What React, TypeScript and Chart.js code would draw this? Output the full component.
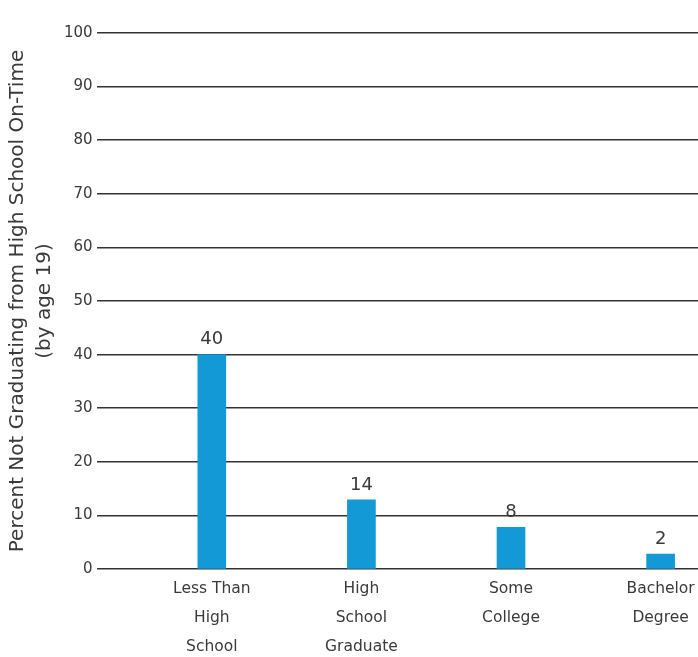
import React, { useEffect, useRef } from "react";
import { Chart, registerables } from "chart.js";

Chart.register(...registerables);

const categories: string[][] = [
  ["Less Than", "High", "School"],
  ["High", "School", "Graduate"],
  ["Some", "College"],
  ["Bachelor", "Degree"],
];
const barValues: number[] = [40, 12.9, 7.8, 2.8];
const valueLabels: string[] = ["40", "14", "8", "2"];
const yTitle: string[] = ["Percent Not Graduating from High School On-Time", "(by age 19)"];

const FONT = "'DejaVu Sans', sans-serif";
const TEXT = "#3a3a3a";
const BAR = "#1299d6";

const valueLabelPlugin = {
  id: "valueLabels",
  afterDatasetsDraw(chart: any) {
    const meta = chart.getDatasetMeta(0);
    const ctx = chart.ctx;
    ctx.save();
    ctx.font = `18px ${FONT}`;
    ctx.fillStyle = TEXT;
    ctx.textAlign = "center";
    ctx.textBaseline = "middle";
    meta.data.forEach((el: any, i: number) => {
      ctx.fillText(valueLabels[i], el.x, el.y - 15);
    });
    ctx.restore();
  },
};

export default function App() {
  const ref = useRef<HTMLCanvasElement | null>(null);
  useEffect(() => {
    document.body.style.margin = "0";
    const chart = new Chart(ref.current!, {
      type: "bar",
      data: {
        datasets: [
          {
            data: barValues.map((v, i) => ({ x: i, y: v })),
            backgroundColor: BAR,
            barThickness: 28,
          },
        ],
      },
      options: {
        animation: false,
        responsive: false,
        maintainAspectRatio: false,
        layout: { padding: { top: 33, right: 0, left: 4, bottom: 0 } },
        plugins: { legend: { display: false }, tooltip: { enabled: false } },
        scales: {
          x: {
            type: "linear",
            min: -0.77,
            max: 3.25,
            offset: false,
            grid: { display: false, drawTicks: false },
            border: { display: false },
            afterBuildTicks: (scale: any) => {
              scale.ticks = scale.ticks.filter(
                (t: any) => Number.isInteger(t.value) && t.value >= 0 && t.value < categories.length
              );
            },
            afterFit: (scale: any) => {
              scale.paddingLeft = 0;
              scale.paddingRight = 0;
            },
            ticks: {
              stepSize: 1,
              includeBounds: false,
              autoSkip: false,
              maxRotation: 0,
              padding: 5,
              color: TEXT,
              font: { family: FONT, size: 15.5, lineHeight: 1.87 },
              callback: (v: any) => categories[v] ?? "",
            },
          },
          y: {
            min: 0,
            max: 100,
            ticks: {
              stepSize: 10,
              padding: 4,
              color: TEXT,
              font: { family: FONT, size: 15 },
            },
            grid: { color: "#333333", lineWidth: 1.5, drawTicks: false },
            border: { display: false },
            title: {
              display: true,
              text: yTitle,
              color: TEXT,
              font: { family: FONT, size: 20, lineHeight: 1.35 },
              padding: { top: 0, bottom: 2 },
            },
          },
        },
      },
      plugins: [valueLabelPlugin],
    });
    return () => chart.destroy();
  }, []);
  return (
    <div style={{ width: 698, height: 657, overflow: "hidden" }}>
      <canvas ref={ref} width={698} height={666} style={{ display: "block" }} />
    </div>
  );
}
